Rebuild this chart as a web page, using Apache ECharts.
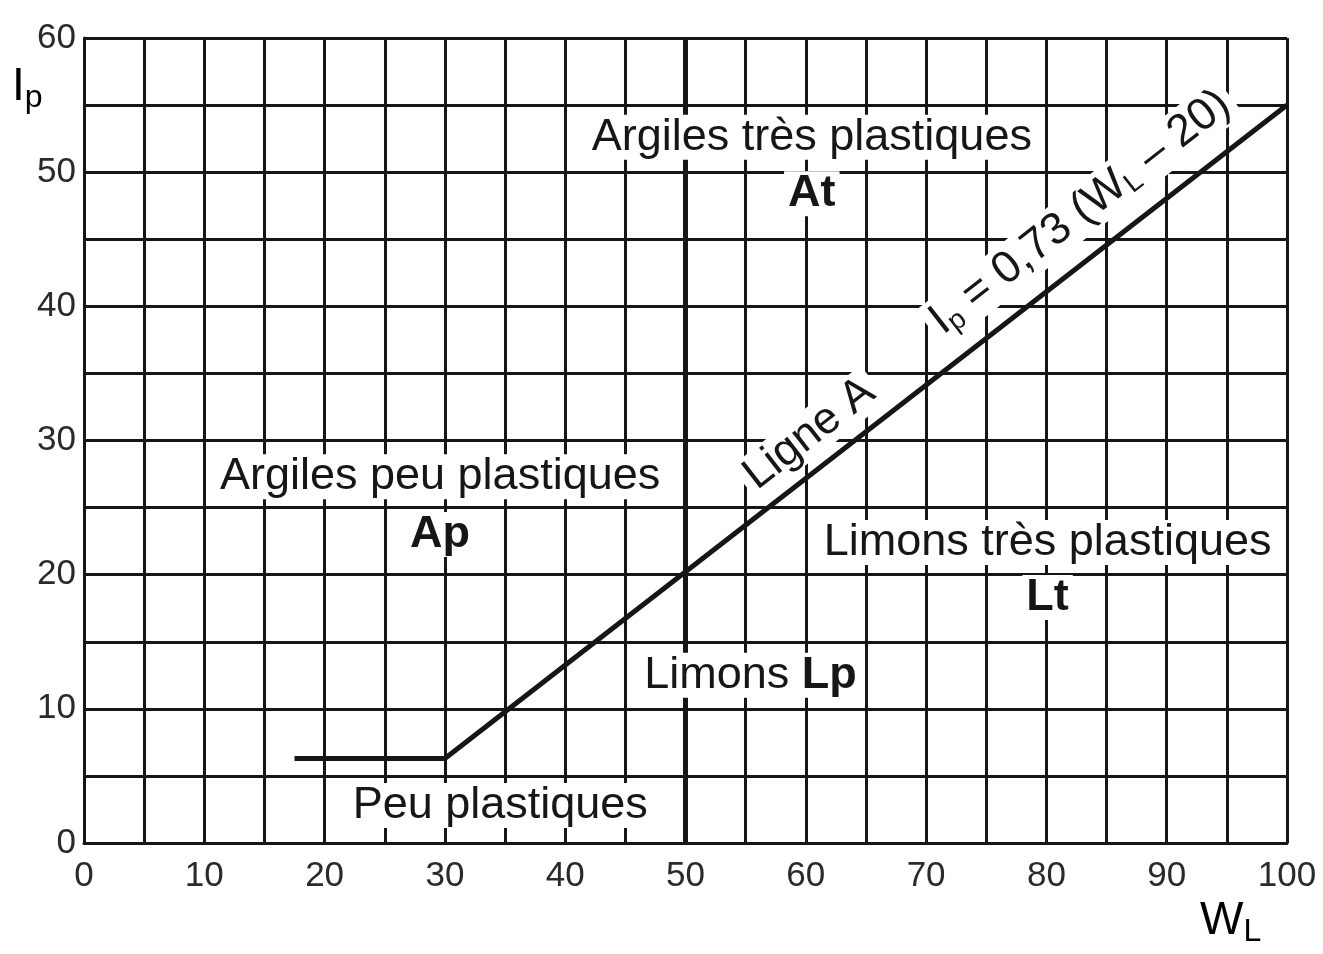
<!DOCTYPE html>
<html>
<head>
<meta charset="utf-8">
<script src="https://cdn.jsdelivr.net/npm/echarts@6/dist/echarts.min.js"></script>
<style>html,body{margin:0;padding:0;background:#fff}#c{width:1323px;height:954px}</style>
</head>
<body>
<div id="c"></div>
<script>
// ---- data ----
const xTicks = [0, 10, 20, 30, 40, 50, 60, 70, 80, 90, 100];
const yTicks = [0, 10, 20, 30, 40, 50, 60];
// Ligne A (as drawn)
const aLineX = [17.5, 30, 100];
const aLineY = [6.3, 6.3, 55];
// limite W_L = 50
const wl50X = [50, 50];
const wl50Y = [0, 60];
// zone labels
const zoneText = ['Argiles très plastiques', '{b|At}', 'Argiles peu plastiques', '{b|Ap}',
                  'Limons très plastiques', '{b|Lt}', 'Limons {b|Lp}', 'Peu plastiques'];
const zoneX = [60.5, 60.5, 29.6, 29.6, 80.1, 80.1, 55.4, 34.6];
const zoneY = [52.6, 48.4, 27.3, 23.0, 22.4, 18.3, 12.5, 2.8];
// line label
const lineText = ['Ligne A', '{n|I}{s|p}{n| = 0,73 (W}{s|L}{n| – 20)}'];
const lineLabelX = [60.3, 82.8];
const lineLabelY = [30.5, 47.0];

const FONT = "'Liberation Sans', Arial, sans-serif";
const INK = '#161616';

const chart = echarts.init(document.getElementById('c'));
const axisCommon = {
  type: 'value', interval: 5,
  axisLine: { show: true, lineStyle: { color: INK, width: 3 } },
  axisTick: { show: false },
  splitLine: { show: true, lineStyle: { color: INK, width: 3 } },
  axisLabel: { color: '#2a2a2a', fontSize: 35, fontFamily: FONT,
    formatter: v => (v % 10 === 0 ? String(v) : '') }
};
const rich = {
  b: { fontWeight: 'bold', fontSize: 45, fontFamily: FONT, color: INK },
  n: { fontSize: 45, fontFamily: FONT, color: INK },
  s: { fontSize: 28, fontFamily: FONT, color: INK, padding: [20, 0, 0, 0] },
  bigN: { fontSize: 46, fontFamily: FONT, color: INK },
  bigS: { fontSize: 32, fontFamily: FONT, color: INK, padding: [22, 0, 0, 0] }
};
const annLabel = {
  show: true, position: 'inside', fontSize: 45, fontFamily: FONT, color: INK,
  opacity: 1, backgroundColor: '#ffffff', rich: rich,
  formatter: p => p.data.text
};
chart.setOption({
  animation: false,
  backgroundColor: '#fff',
  grid: { left: 84, right: 36, top: 38, bottom: 111 },
  xAxis: Object.assign({}, axisCommon, { min: xTicks[0], max: xTicks[xTicks.length - 1],
    axisLabel: Object.assign({}, axisCommon.axisLabel, { margin: 16 }) }),
  yAxis: Object.assign({}, axisCommon, { min: yTicks[0], max: yTicks[yTicks.length - 1],
    axisLabel: Object.assign({}, axisCommon.axisLabel, { margin: 8 }) }),
  graphic: [
    { type: 'text', left: 12, top: 64, z: 100,
      style: { text: '{bigN|I}{bigS|p}', rich: rich } },
    { type: 'text', left: 1200, top: 898, z: 100,
      style: { text: '{bigN|W}{bigS|L}', rich: rich } }
  ],
  series: [
    { name: 'WL50', type: 'line', symbol: 'none', z: 3,
      data: wl50X.map((x, i) => [x, wl50Y[i]]),
      lineStyle: { color: INK, width: 5 } },
    { name: 'Ligne A', type: 'line', symbol: 'none', z: 4,
      data: aLineX.map((x, i) => [x, aLineY[i]]),
      lineStyle: { color: INK, width: 5 } },
    { name: 'zones', type: 'scatter', symbolSize: 0, zlevel: 1, z: 10,
      itemStyle: { opacity: 1 },
      data: zoneX.map((x, i) => ({ value: [x, zoneY[i]], text: zoneText[i] })),
      label: Object.assign({}, annLabel, { padding: [0, 4, 0, 4] }) },
    { name: 'lineLabel', type: 'scatter', symbolSize: 0, zlevel: 1, z: 10,
      itemStyle: { opacity: 1 },
      data: lineLabelX.map((x, i) => ({ value: [x, lineLabelY[i]], text: lineText[i] })),
      label: Object.assign({}, annLabel, { rotate: 38, padding: [0, 6, 0, 6] }) }
  ]
});
</script>
</body>
</html>
